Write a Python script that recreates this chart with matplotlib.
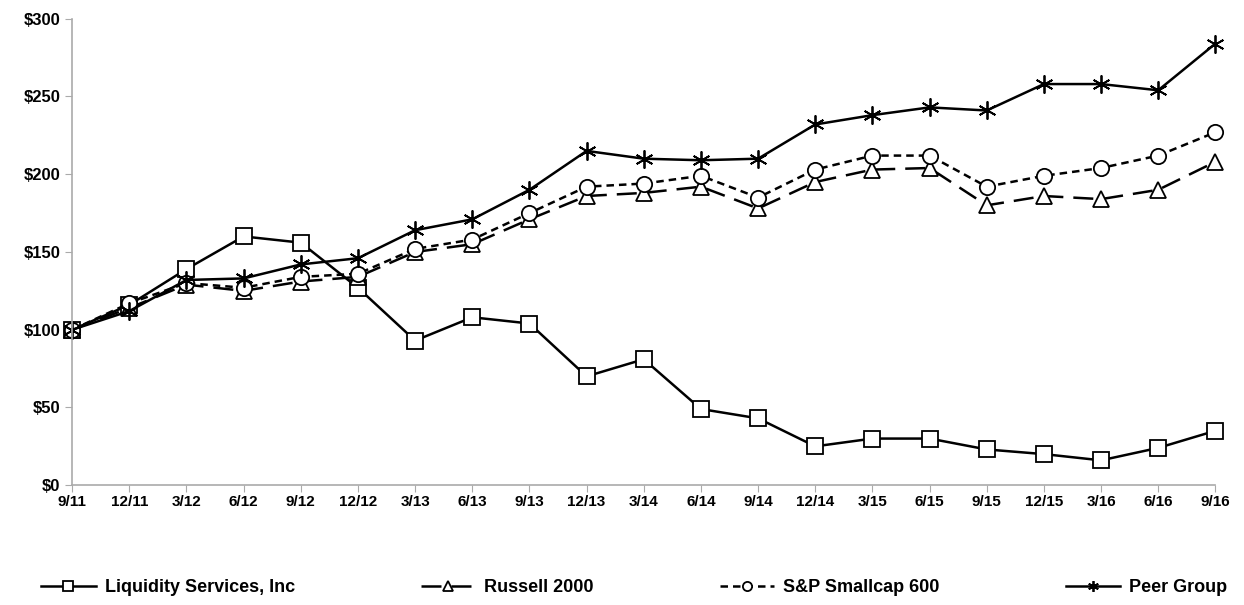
import matplotlib.pyplot as plt

plt.rcParams['font.family'] = ['Liberation Sans Narrow', 'Liberation Sans', 'DejaVu Sans']
plt.rcParams['font.weight'] = 'bold'

periods = ['9/11', '12/11', '3/12', '6/12', '9/12', '12/12', '3/13', '6/13', '9/13', '12/13', '3/14',
           '6/14', '9/14', '12/14', '3/15', '6/15', '9/15', '12/15', '3/16', '6/16', '9/16']
liquidity = [100, 116, 139, 160, 156, 127, 93, 108, 104, 70, 81, 49, 43, 25, 30, 30, 23, 20, 16, 24, 35]
russell = [100, 114, 129, 125, 131, 134, 150, 155, 171, 186, 188, 192, 178, 195, 203, 204, 180, 186, 184, 190, 208]
sp600 = [100, 117, 130, 127, 134, 136, 152, 158, 175, 192, 194, 199, 185, 203, 212, 212, 192, 199, 204, 212, 227]
peer = [100, 112, 132, 133, 142, 146, 164, 171, 190, 215, 210, 209, 210, 232, 238, 243, 241, 258, 258, 254, 284]

x = list(range(len(periods)))

fig = plt.figure(figsize=(12.44, 6.05), dpi=100)
ax = fig.add_axes([0.058, 0.198, 0.919, 0.771])

ax.plot(x, liquidity, color='black', linewidth=1.8, marker='s', markersize=11, clip_on=False,
        markerfacecolor='white', markeredgewidth=1.3, label='Liquidity Services, Inc')
ax.plot(x, russell, color='black', linewidth=1.8, linestyle=(0, (8, 4)), marker='^', markersize=11,
        clip_on=False, markerfacecolor='white', markeredgewidth=1.3, label='Russell 2000')
ax.plot(x, sp600, color='black', linewidth=1.8, linestyle=(0, (3, 2)), marker='o', markersize=11,
        clip_on=False, markerfacecolor='white', markeredgewidth=1.3, label='S&P Smallcap 600')
ax.plot(x, peer, color='black', linewidth=1.8, marker=(6, 2, 0), markersize=13, clip_on=False,
        markeredgewidth=1.3, label='Peer Group')

ax.set_xlim(0, 20)
ax.set_ylim(0, 300)
ax.set_xticks(x)
ax.set_xticklabels(periods, fontsize=11, fontweight='bold')
ax.set_yticks(range(0, 301, 50))
ax.set_yticklabels(['$%d' % v for v in range(0, 301, 50)], fontsize=12, fontweight='bold')
for s in ['top', 'right']:
    ax.spines[s].set_visible(False)
for s in ['left', 'bottom']:
    ax.spines[s].set_color('#aaaaaa')
    ax.spines[s].set_linewidth(1.2)
ax.tick_params(axis='x', colors='#aaaaaa', labelcolor='black', length=5, direction='out', pad=2)
ax.tick_params(axis='y', colors='#aaaaaa', labelcolor='black', length=5, direction='out')

fig.legend(loc='lower center', bbox_to_anchor=(0.51, -0.012), ncol=4, frameon=False,
           prop={'size': 13, 'weight': 'bold'}, columnspacing=7, handlelength=3, handletextpad=0.5,
           markerscale=0.6)

plt.savefig('out.png', dpi=100)
